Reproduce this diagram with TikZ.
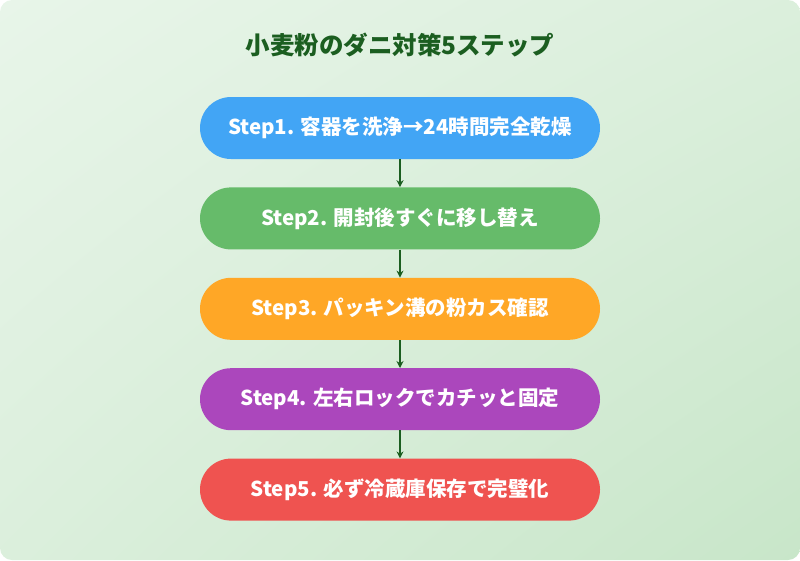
\documentclass[tikz,border=0pt]{standalone}
\usepackage{fontspec}
\newfontfamily\cjk{Noto Sans CJK JP}
\usetikzlibrary{positioning,arrows.meta,shadings}
\definecolor{bgA}{HTML}{E8F5E9}
\definecolor{bgB}{HTML}{C8E6C9}
\definecolor{ttl}{HTML}{1B5E20}
\definecolor{cA}{HTML}{42A5F5}
\definecolor{cB}{HTML}{66BB6A}
\definecolor{cC}{HTML}{FFA726}
\definecolor{cD}{HTML}{AB47BC}
\definecolor{cE}{HTML}{EF5350}
\tikzset{
  step/.style={draw=none, fill=#1, rounded corners=31pt, minimum width=400pt,
    minimum height=62pt, text=white, font=\cjk\bfseries\fontsize{20.5}{24}\selectfont},
  link/.style={draw=ttl, line width=1.6pt, -{Stealth[length=7pt,width=7pt]}}
}
\begin{document}
\begin{tikzpicture}[x=1pt,y=1pt]
    \useasboundingbox (0,0) rectangle (800,-560);
    \shade[rounded corners=12pt, upper left=bgA, lower right=bgB, upper right=bgA!60!bgB, lower left=bgA!60!bgB] (0,0) rectangle (800,-560);

    \node[text=ttl, font=\cjk\bfseries\fontsize{24.5}{28}\selectfont] (title) at (400,-45) {小麦粉のダニ対策5ステップ};

    \node[step=cA] (s1) at (400,-128) {Step1. 容器を洗浄→24時間完全乾燥};
    \node[step=cB, below=28pt of s1] (s2) {Step2. 開封後すぐに移し替え};
    \node[step=cC, below=28pt of s2] (s3) {Step3. パッキン溝の粉カス確認};
    \node[step=cD, below=28pt of s3] (s4) {Step4. 左右ロックでカチッと固定};
    \node[step=cE, below=28pt of s4] (s5) {Step5. 必ず冷蔵庫保存で完璧化};

    \foreach \a/\b in {s1/s2,s2/s3,s3/s4,s4/s5}
        \draw[link] (\a.south) -- (\b.north);
\end{tikzpicture}
\end{document}
